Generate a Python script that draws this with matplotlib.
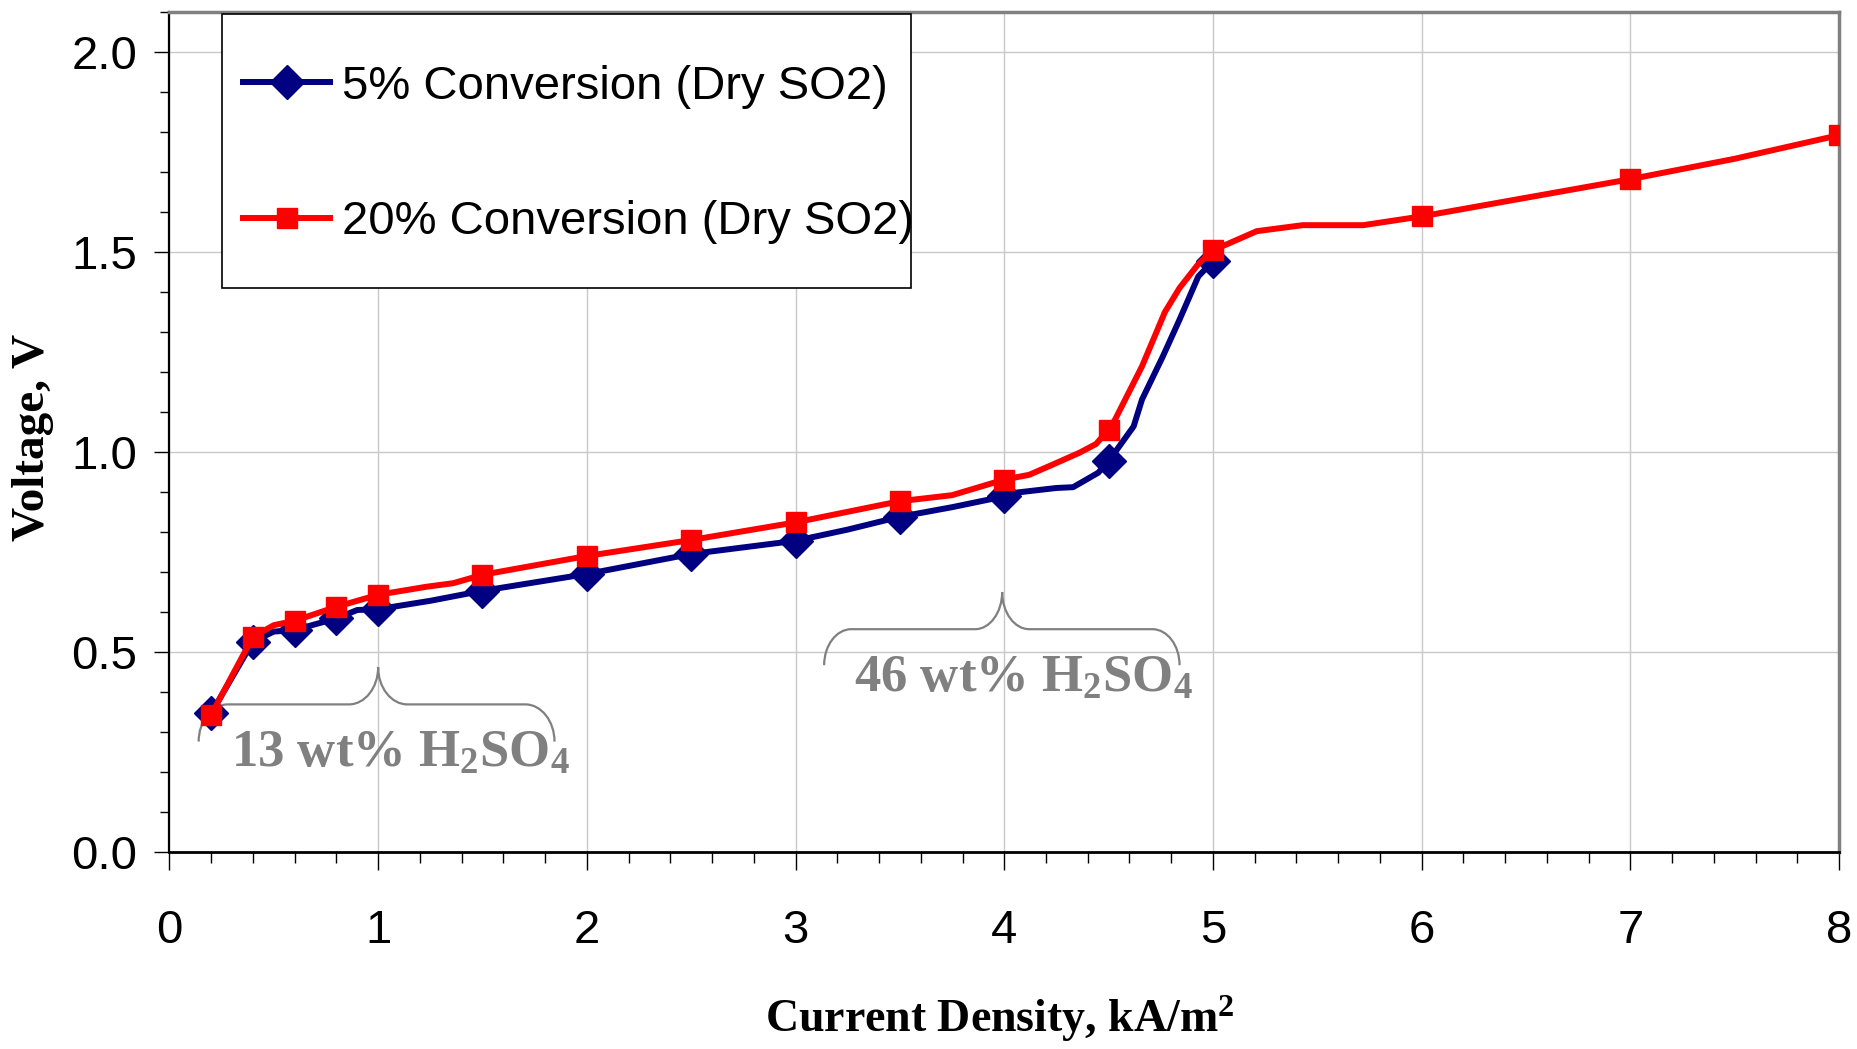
import numpy as np
import matplotlib
matplotlib.use("Agg")
import matplotlib.pyplot as plt
from matplotlib.path import Path
from matplotlib.patches import PathPatch, Rectangle
from matplotlib.ticker import MultipleLocator, FormatStrFormatter

plt.rcParams['mathtext.fontset'] = 'custom'
plt.rcParams['mathtext.rm'] = 'Liberation Serif:bold'
plt.rcParams['mathtext.it'] = 'Liberation Serif:bold'
plt.rcParams['mathtext.bf'] = 'Liberation Serif:bold'

# ---- data ----
# 5% conversion (Dry SO2): line vertices, markers at the listed x values
x5 = [0.2, 0.4, 0.5, 0.6, 0.8, 0.9, 1.0, 1.25, 1.5, 2.0, 2.5, 3.0, 3.25, 3.5, 3.75,
      4.0, 4.05, 4.25, 4.33, 4.45, 4.5, 4.62, 4.66, 4.76, 4.84, 4.93, 5.0]
v5 = [0.347, 0.526, 0.551, 0.555, 0.584, 0.605, 0.607, 0.628, 0.653, 0.695, 0.745, 0.778, 0.806, 0.838, 0.862,
      0.889, 0.898, 0.910, 0.912, 0.948, 0.977, 1.064, 1.131, 1.239, 1.331, 1.439, 1.477]
x5_marked = [0.2, 0.4, 0.6, 0.8, 1.0, 1.5, 2.0, 2.5, 3.0, 3.5, 4.0, 4.5, 5.0]

# 20% conversion (Dry SO2)
x20 = [0.2, 0.4, 0.5, 0.6, 0.8, 1.0, 1.23, 1.36, 1.5, 2.0, 2.5, 3.0, 3.5, 3.75,
       4.0, 4.12, 4.23, 4.36, 4.44, 4.5, 4.53, 4.66, 4.77, 4.84, 4.93, 5.0,
       5.21, 5.43, 5.72, 6.0, 7.0, 7.5, 8.0]
v20 = [0.343, 0.538, 0.567, 0.578, 0.613, 0.643, 0.663, 0.672, 0.693, 0.740, 0.780, 0.824, 0.877, 0.892,
       0.931, 0.943, 0.968, 0.998, 1.020, 1.056, 1.080, 1.214, 1.350, 1.410, 1.470, 1.504,
       1.552, 1.567, 1.567, 1.589, 1.682, 1.733, 1.792]
x20_marked = [0.2, 0.4, 0.6, 0.8, 1.0, 1.5, 2.0, 2.5, 3.0, 3.5, 4.0, 4.5, 5.0, 6.0, 7.0, 8.0]

labels = ["5% Conversion (Dry SO2)", "20% Conversion (Dry SO2)"]
annot_labels = ["13 wt% H$_2$SO$_4$", "46 wt% H$_2$SO$_4$"]
xlabel = "Current Density, kA/m$^2$"
ylabel = "Voltage, V"

# ---- figure ----
fig = plt.figure(figsize=(18.58, 10.49), dpi=100)
ax = fig.add_axes([0.0912, 0.1878, 0.8986, 0.8008])

SANS = ['Liberation Sans', 'DejaVu Sans']
SERIF = ['Liberation Serif', 'DejaVu Serif']

me5 = [i for i, x in enumerate(x5) if x in x5_marked]
me20 = [i for i, x in enumerate(x20) if x in x20_marked]

l5, = ax.plot(x5, v5, color='#000080', lw=4.3, marker='D', markersize=17,
              markevery=me5, solid_joinstyle='round', zorder=3, label=labels[0])
l20, = ax.plot(x20, v20, color='#ff0000', lw=4.3, marker='s', markersize=14,
               markevery=me20, solid_joinstyle='round', zorder=4, label=labels[1])

ax.set_xlim(0, 8)
ax.set_ylim(0, 2.1)
ax.xaxis.set_major_locator(MultipleLocator(1))
ax.xaxis.set_minor_locator(MultipleLocator(0.2))
ax.yaxis.set_major_locator(MultipleLocator(0.5))
ax.yaxis.set_minor_locator(MultipleLocator(0.1))
ax.yaxis.set_major_formatter(FormatStrFormatter('%.1f'))
ax.xaxis.set_major_formatter(FormatStrFormatter('%d'))

ax.grid(True, which='major', color='#c8c8c8', lw=1.0)
ax.set_axisbelow(True)

for s in ['top', 'right']:
    ax.spines[s].set_color('#808080')
    ax.spines[s].set_linewidth(2.5)
ax.spines['left'].set_color('black')
ax.spines['left'].set_linewidth(1.6)
ax.spines['bottom'].set_color('black')
ax.spines['bottom'].set_linewidth(2.0)

ax.tick_params(axis='x', which='major', direction='out', length=13, width=1.0, pad=28)
ax.tick_params(axis='x', which='minor', direction='out', length=8, width=1.0)
ax.tick_params(axis='y', which='major', direction='out', length=11, width=1.0, pad=12)
ax.tick_params(axis='y', which='minor', direction='out', length=6.5, width=1.0)
for lab in ax.get_xticklabels() + ax.get_yticklabels():
    lab.set_fontfamily(SANS)
    lab.set_fontsize(34)

ax.set_xlabel(xlabel, fontfamily=SERIF, fontweight='bold', fontsize=33, va='center')
ax.xaxis.set_label_coords(0.497, -0.198)
ax.set_ylabel(ylabel, fontfamily=SERIF, fontweight='bold', fontsize=34, va='center')
ax.yaxis.set_label_coords(-0.0815, 0.493)

# legend box and entries
ax.add_patch(Rectangle((0.0314, 0.671), 0.413, 0.3266, transform=ax.transAxes,
                       facecolor='white', edgecolor='black', lw=1.2, zorder=5))
leg = ax.legend(handles=[l5, l20], loc='upper left', bbox_to_anchor=(0.044, 0.937),
                frameon=False, borderpad=0, borderaxespad=0, handlelength=1.85,
                handletextpad=0.25, labelspacing=1.94,
                prop={'family': SANS, 'size': 34})
leg.set_zorder(6)


# braces
def brace(x0, x1, xm, y_end, y_bar, y_tip, r):
    dy1 = y_bar - y_end
    dy2 = y_tip - y_bar
    verts = [(x0, y_end),
             (x0, y_end + 0.55 * dy1), (x0 + 0.45 * r, y_bar), (x0 + r, y_bar),
             (xm - r, y_bar),
             (xm - 0.45 * r, y_bar), (xm, y_bar + 0.45 * dy2), (xm, y_tip),
             (xm, y_bar + 0.45 * dy2), (xm + 0.45 * r, y_bar), (xm + r, y_bar),
             (x1 - r, y_bar),
             (x1 - 0.45 * r, y_bar), (x1, y_end + 0.55 * dy1), (x1, y_end)]
    codes = [Path.MOVETO,
             Path.CURVE4, Path.CURVE4, Path.CURVE4,
             Path.LINETO,
             Path.CURVE4, Path.CURVE4, Path.CURVE4,
             Path.CURVE4, Path.CURVE4, Path.CURVE4,
             Path.LINETO,
             Path.CURVE4, Path.CURVE4, Path.CURVE4]
    ax.add_patch(PathPatch(Path(verts, codes), facecolor='none', edgecolor='#808080',
                           lw=1.6, zorder=2))


brace(0.14, 1.845, 1.0, 0.276, 0.369, 0.462, 0.14)
brace(3.137, 4.84, 3.99, 0.467, 0.557, 0.65, 0.13)

ax.text(0.296, 0.213, annot_labels[0], color='#808080', fontfamily=SERIF,
        fontweight='bold', fontsize=38, ha='left', va='baseline', zorder=2)
ax.text(3.28, 0.40, annot_labels[1], color='#808080', fontfamily=SERIF,
        fontweight='bold', fontsize=38, ha='left', va='baseline', zorder=2)

fig.savefig('out.png', dpi=100)
